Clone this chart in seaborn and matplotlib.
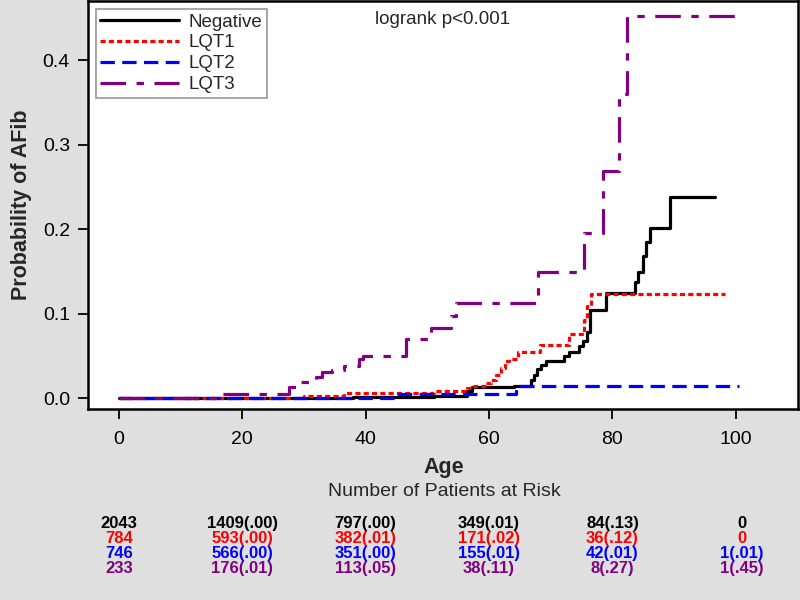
import pandas as pd
import matplotlib
matplotlib.use('Agg')
import matplotlib.pyplot as plt
import matplotlib.transforms as mtransforms
import seaborn as sns

# Cumulative probability of AFib by age
groups = ['Negative', 'LQT1', 'LQT2', 'LQT3']

neg_age = [0, 38, 51, 56.5, 57.2, 64, 66.8, 67.2, 67.7, 68.4, 69.2, 72.2, 72.9,
           74.5, 75.2, 75.8, 76.3, 79, 83.6, 84.2, 85, 85.5, 86, 89.3, 96.6]
neg_prob = [0, 0.001, 0.003, 0.009, 0.013, 0.015, 0.022, 0.028, 0.034, 0.039, 0.044,
            0.05, 0.055, 0.062, 0.068, 0.078, 0.105, 0.124, 0.137, 0.15, 0.168,
            0.185, 0.202, 0.238, 0.238]

lqt1_age = [0, 30, 36.5, 51, 56.5, 57.5, 59.5, 60.3, 61.1, 62.0, 62.6, 63.2, 64.7,
            68.2, 73, 75.4, 75.9, 76.5, 98.2]
lqt1_prob = [0, 0.003, 0.006, 0.009, 0.012, 0.014, 0.018, 0.022, 0.028, 0.036, 0.044,
             0.046, 0.055, 0.063, 0.076, 0.093, 0.109, 0.123, 0.123]

lqt2_age = [0, 45.4, 64.4, 100.5]
lqt2_prob = [0, 0.005, 0.014, 0.014]

lqt3_age = [0, 16.4, 27.5, 29.1, 32, 33, 34.6, 36.5, 38.9, 39.5, 46.5, 50.6, 53.8,
            54.6, 68, 75.4, 78.5, 81.1, 82.4, 99.8]
lqt3_prob = [0, 0.005, 0.013, 0.019, 0.025, 0.031, 0.033, 0.038, 0.047, 0.05, 0.07,
             0.083, 0.097, 0.113, 0.149, 0.196, 0.269, 0.36, 0.452, 0.452]

# Number at risk table
risk_ages = [0, 20, 40, 60, 80, 101]
risk_neg = ['2043', '1409(.00)', '797(.00)', '349(.01)', '84(.13)', '0']
risk_lqt1 = ['784', '593(.00)', '382(.01)', '171(.02)', '36(.12)', '0']
risk_lqt2 = ['746', '566(.00)', '351(.00)', '155(.01)', '42(.01)', '1(.01)']
risk_lqt3 = ['233', '176(.01)', '113(.05)', '38(.11)', '8(.27)', '1(.45)']

colors = {'Negative': 'black', 'LQT1': '#FF0000', 'LQT2': '#0000FF', 'LQT3': '#800080'}
dashes = {'Negative': '', 'LQT1': (1.6, 1.0), 'LQT2': (4.5, 2.3), 'LQT3': (8, 3.3, 2.3, 3.3)}

frames = []
for g, a, p in zip(groups, [neg_age, lqt1_age, lqt2_age, lqt3_age],
                   [neg_prob, lqt1_prob, lqt2_prob, lqt3_prob]):
    frames.append(pd.DataFrame({'Age': a, 'Prob': p, 'Group': g}))
df = pd.concat(frames, ignore_index=True)

sns.set_theme(style='ticks')
plt.rcParams['font.family'] = ['Liberation Sans', 'DejaVu Sans']

fig = plt.figure(figsize=(8, 6), dpi=100, facecolor='#DFDFDF')
ax = fig.add_axes([0.11, 0.318, 0.887, 0.68])
ax.set_facecolor('white')

sns.lineplot(data=df, x='Age', y='Prob', hue='Group', style='Group',
             palette=colors, dashes=dashes, hue_order=groups, style_order=groups,
             estimator=None, sort=False, drawstyle='steps-post', linewidth=2.3,
             legend=False, ax=ax)

ax.set_xlim(-5, 110)
ax.set_ylim(-0.013, 0.47)
ax.set_xticks([0, 20, 40, 60, 80, 100])
ax.set_yticks([0.0, 0.1, 0.2, 0.3, 0.4])
ax.set_yticklabels(['0.0', '0.1', '0.2', '0.3', '0.4'])
ax.tick_params(axis='both', direction='out', length=7, width=1.3, colors='black',
               labelsize=14, pad=6)
ax.tick_params(axis='x', pad=9)
for s in ax.spines.values():
    s.set_visible(True)
    s.set_linewidth(1.8)
    s.set_color('black')

ax.set_xlabel('')
ax.set_ylabel('Probability of AFib', fontsize=15.5, fontweight='bold', labelpad=8)

leg = ax.legend(handles=ax.get_lines()[:4], labels=groups, loc='upper left',
                fontsize=13.5, frameon=True, fancybox=False, edgecolor='#888888',
                handlelength=4.2, borderaxespad=0.4, labelspacing=0.2,
                borderpad=0.25, handletextpad=0.5)
leg.get_frame().set_linewidth(1.3)

ax.text(0.5, 0.975, 'logrank p<0.001', transform=ax.transAxes, ha='center',
        va='top', fontsize=13.5)

fig.text(0.555, 0.22, 'Age', ha='center', va='center', fontsize=15.5,
         fontweight='bold')
fig.text(0.555, 0.18, 'Number of Patients at Risk', ha='center', va='center',
         fontsize=14)

trans = mtransforms.blended_transform_factory(ax.transData, fig.transFigure)
row_y = [0.128, 0.103, 0.078, 0.053]
for rows, g, y in zip([risk_neg, risk_lqt1, risk_lqt2, risk_lqt3], groups, row_y):
    for xa, txt in zip(risk_ages, rows):
        ax.text(xa, y, txt, transform=trans, ha='center', va='center',
                fontsize=12, fontweight='bold', color=colors[g], clip_on=False)

fig.savefig('out.png', dpi=100, facecolor=fig.get_facecolor())
